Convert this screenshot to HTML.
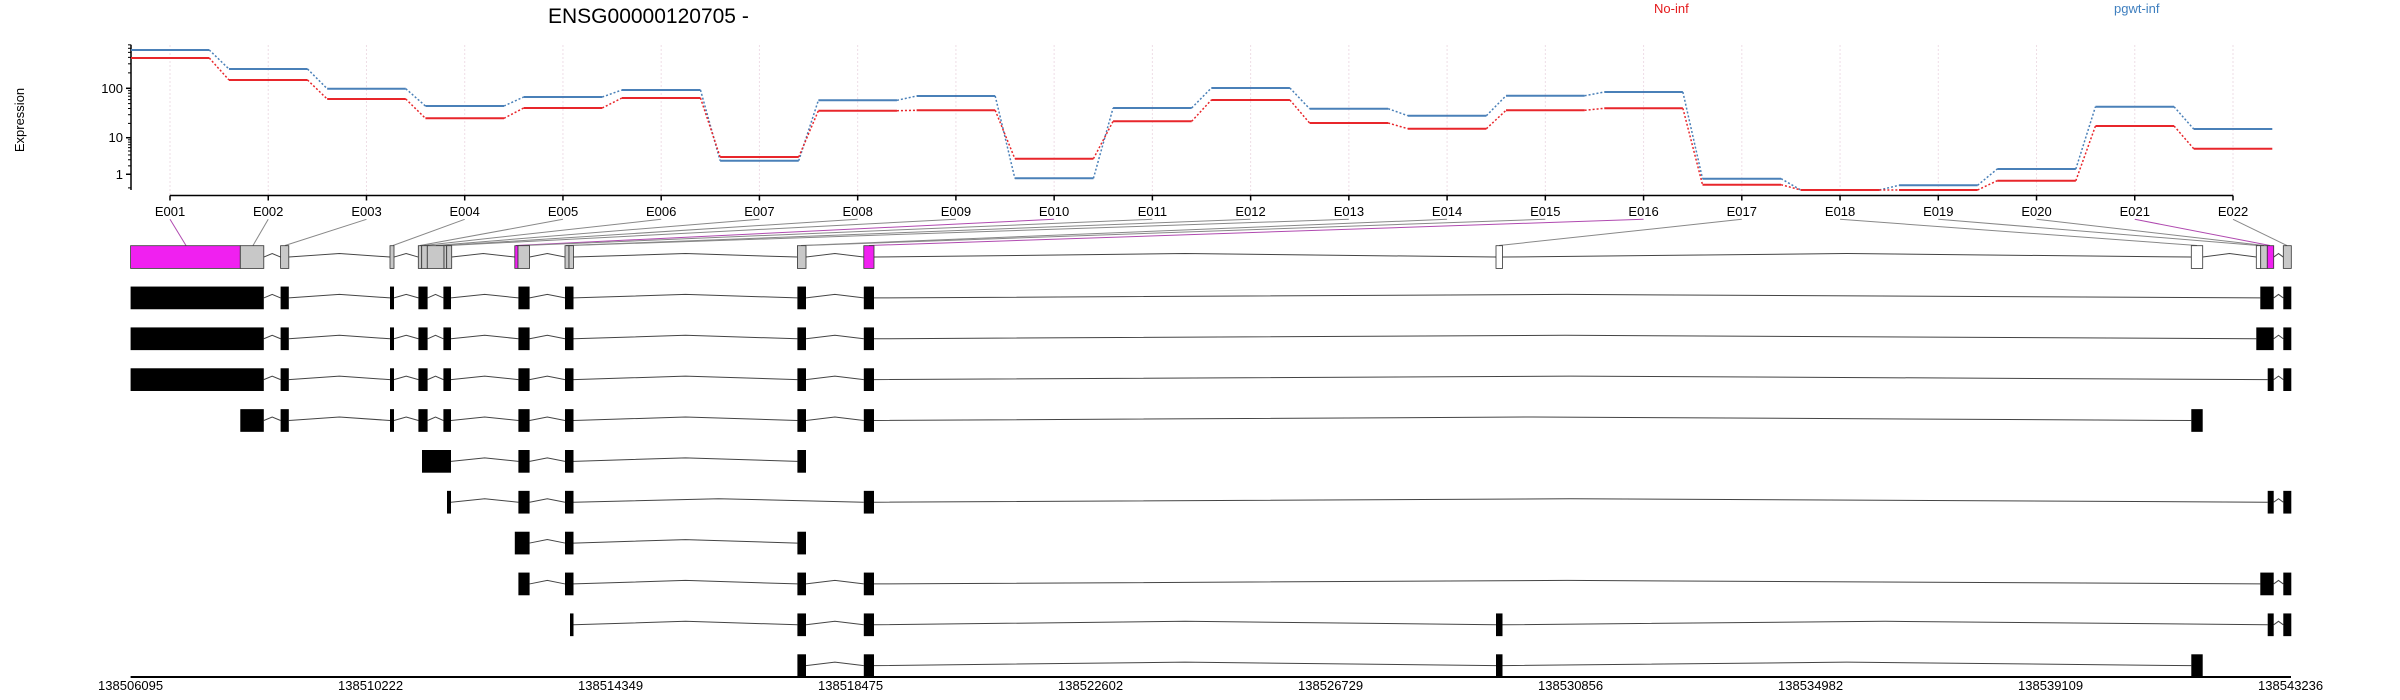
<!DOCTYPE html>
<html><head><meta charset="utf-8">
<style>
html,body{margin:0;padding:0;background:#fff;}
svg{display:block;}
text{font-family:"Liberation Sans",sans-serif;}
</style></head>
<body>
<svg id="s" width="2400" height="700" xmlns="http://www.w3.org/2000/svg">
<text x="548" y="23" font-size="21" fill="#000">ENSG00000120705 -</text>
<text x="1654" y="13" font-size="13" fill="#e41a1c">No-inf</text>
<text x="2114" y="13" font-size="13" fill="#3f7fbf">pgwt-inf</text>
<text transform="translate(24,120) rotate(-90)" font-size="13" text-anchor="middle" fill="#000">Expression</text>
<g font-size="13" text-anchor="end" fill="#000">
<text x="123" y="93">100</text><text x="123" y="142">10</text><text x="123" y="179">1</text>
</g>
<g id="xl" font-size="13" text-anchor="middle" fill="#000">
<text x="170" y="216">E001</text><text x="268.2" y="216">E002</text><text x="366.5" y="216">E003</text><text x="464.7" y="216">E004</text><text x="563" y="216">E005</text><text x="661.2" y="216">E006</text><text x="759.4" y="216">E007</text><text x="857.7" y="216">E008</text><text x="955.9" y="216">E009</text><text x="1054.1" y="216">E010</text><text x="1152.4" y="216">E011</text><text x="1250.6" y="216">E012</text><text x="1348.9" y="216">E013</text><text x="1447.1" y="216">E014</text><text x="1545.3" y="216">E015</text><text x="1643.6" y="216">E016</text><text x="1741.8" y="216">E017</text><text x="1840.1" y="216">E018</text><text x="1938.3" y="216">E019</text><text x="2036.5" y="216">E020</text><text x="2134.8" y="216">E021</text><text x="2233" y="216">E022</text>
</g>
<g font-size="13" text-anchor="middle" fill="#000">
<text x="130.6" y="690">138506095</text><text x="370.6" y="690">138510222</text><text x="610.6" y="690">138514349</text><text x="850.6" y="690">138518475</text><text x="1090.6" y="690">138522602</text><text x="1330.6" y="690">138526729</text><text x="1570.6" y="690">138530856</text><text x="1810.6" y="690">138534982</text><text x="2050.6" y="690">138539109</text><text x="2290.6" y="690">138543236</text>
</g>
<g id="g"></g>
</svg>
<script>
var NS="http://www.w3.org/2000/svg",G=document.getElementById("g");
function el(t,a){var e=document.createElementNS(NS,t);for(var k in a)e.setAttribute(k,a[k]);G.appendChild(e);return e;}
function ln(x1,y1,x2,y2,c,w,d){var a={x1:x1,y1:y1,x2:x2,y2:y2,stroke:c,"stroke-width":w||1};if(d)a["stroke-dasharray"]=d;el("line",a);}
var sp=(2233-170)/21;
for(var i=0;i<22;i++){var x=170+i*sp;ln(x,45,x,195,"#eedde6",1,"2,2");}
ln(131,44.7,131,190,"#000",1.5);
function yv(v){return 88.3-51.7*(Math.log10(v+1.2)-Math.log10(101.2));}
[1,10,100].forEach(function(v){ln(126,yv(v),131,yv(v),"#000",1.5);});
var mins=[0,2,3,4,5,6,7,8,9,20,30,40,50,60,70,80,90,200,300,400,500,600,700];
mins.forEach(function(v){ln(128,yv(v),131,yv(v),"#000",1);});
ln(170,195.5,2233,195.5,"#000",1.5);
for(var i=0;i<22;i++){var x=170+i*sp;ln(x,195.5,x,200.5,"#000",1.5);}
var B=[50,69,88.7,106,97,90,160.7,100.3,96,178.3,108,88,108.7,115.7,95.7,92,178.7,190,185.3,169,106.7,129];
var R=[58,80,99,118.3,108,98,157,110.7,110.3,158.7,121.3,100,123,128.7,110.3,108.3,184.7,190,190,180.7,126,148.7];
function ser(V,c){for(var i=0;i<22;i++){var x=170+i*sp;var a=(i==0?131:x-39.3);ln(a,V[i],x+39.3,V[i],c,2);
 if(i<21){ln(x+39.3,V[i],x+sp-39.3,V[i+1],c,1.5,"2,2");}}}
ser(B,"#4a80b8");ser(R,"#e8262b");
var tg=[186,253,285,393,420,424,436,445,449,516,524,566,571,801,805,869,1499,2197,2258,2264,2270,2287];
var pk={0:1,9:1,15:1,20:1};
for(var i=0;i<22;i++){var x=170+i*sp;ln(x,219.3,tg[i],245.5,pk[i]?"#b04ab0":"#888",1);}
var P="#f020f0",Gr="#c8c8c8",W="#fff",K="#000";
var meta=[[130.6,240.3,P],[240.3,263.8,Gr],[280.6,288.8,Gr],[390,394,Gr],[418.3,421.7,Gr],[421.7,427.3,Gr],[427.3,444,Gr],[444,446.7,Gr],[446.7,451.7,Gr],[514.8,518,P],[518,529.6,Gr],[565,569,Gr],[569,573.5,Gr],[797.4,806,Gr],[863.8,874,P],[1496,1502.5,W],[2191.3,2202.7,W],[2256.3,2260.7,W],[2260.7,2267.3,Gr],[2267.3,2273.7,P],[2283.3,2291.3,Gr]];
var base=[[280.6,288.8],[390,394],[418.4,427.6],[443.4,451],[518.4,529.6],[565,573.5],[797.4,806],[863.8,874]];
var rows=[
[[130.6,263.8]].concat(base,[[2260.3,2273.7],[2283.3,2291.3]]),
[[130.6,263.8]].concat(base,[[2256.3,2273.7],[2283.3,2291.3]]),
[[130.6,263.8]].concat(base,[[2267.7,2273.7],[2283.3,2291.3]]),
[[240.3,263.8]].concat(base,[[2191.3,2202.7]]),
[[422,451],[518.4,529.6],[565,573.5],[797.4,806]],
[[447,451],[518.4,529.6],[565,573.5],[863.8,874],[2267.7,2273.7],[2283.3,2291.3]],
[[514.8,529.6],[565,573.5],[797.4,806]],
[[518.4,529.6],[565,573.5],[797.4,806],[863.8,874],[2260.3,2273.7],[2283.3,2291.3]],
[[570,573.5],[797.4,806],[863.8,874],[1496,1502.5],[2267.7,2273.7],[2283.3,2291.3]],
[[797.4,806],[863.8,874],[1496,1502.5],[2191.3,2202.7]]
];
var H=22.7;
function introns(ex,cy){for(var i=0;i<ex.length-1;i++){var a=ex[i][1],b=ex[i+1][0];if(b-a<1)continue;var m=(a+b)/2;
 el("polyline",{points:a+","+cy+" "+m+","+(cy-3.5)+" "+b+","+cy,fill:"none",stroke:"#444","stroke-width":1});}}
var t0=245.7;
introns(meta,t0+H/2);
meta.forEach(function(e){el("rect",{x:e[0],y:t0,width:e[1]-e[0],height:H,fill:e[2],stroke:"#333","stroke-width":0.8});});
rows.forEach(function(r,k){var t=245.7+(k+1)*40.86;introns(r,t+H/2);
 r.forEach(function(e){el("rect",{x:e[0],y:t,width:e[1]-e[0],height:H,fill:K});});});
ln(130.6,677,2291,677,"#000",2);
</script>
</body></html>
